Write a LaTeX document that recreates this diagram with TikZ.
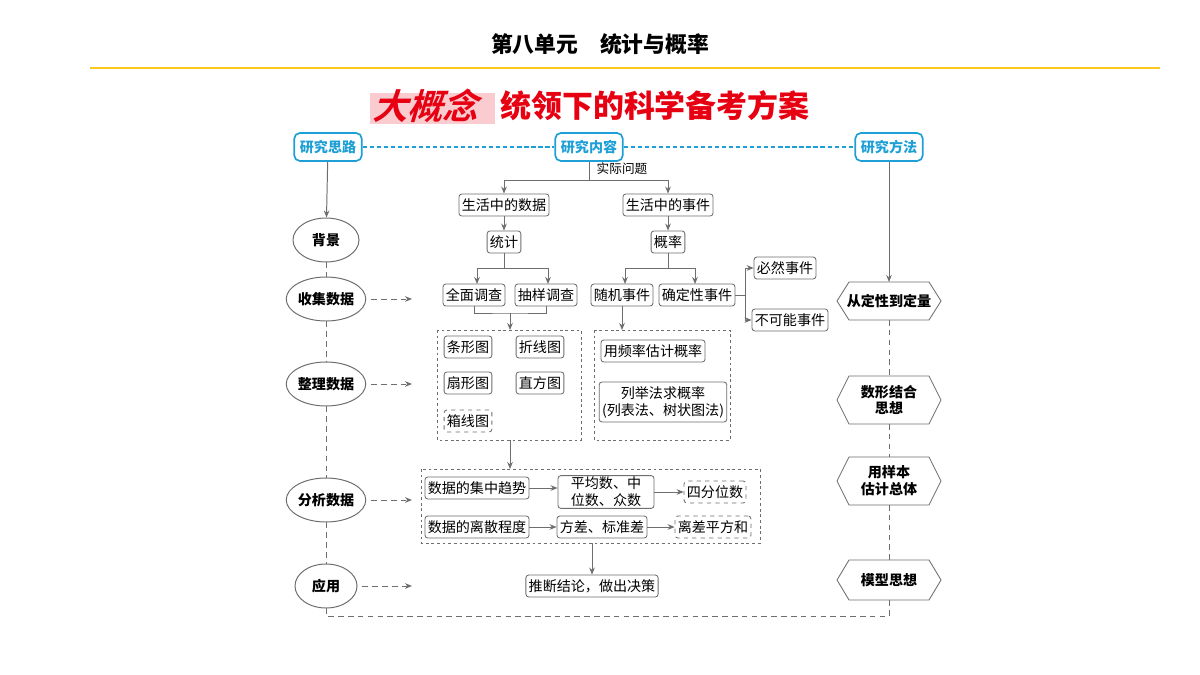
\documentclass[tikz,border=0pt]{standalone}
\usepackage{fontspec}
\setmainfont{Noto Sans CJK SC}
\newfontfamily\slfont[FakeSlant=0.3]{Noto Sans CJK SC Bold}
\usetikzlibrary{shapes.geometric,arrows.meta}
\definecolor{cy}{RGB}{30,160,215}
\definecolor{gr}{RGB}{110,110,110}
\definecolor{rd}{RGB}{230,0,18}
\begin{document}
\begin{tikzpicture}[x=0.025cm,y=-0.025cm,
 txt/.style={font=\fontsize{10}{12}\selectfont},
 box/.style={txt,draw=gr,rounded corners=2pt,fill=white,inner sep=2pt,minimum height=22*0.025cm,line width=0.6pt},
 dbox/.style={box,dashed},
 hd/.style={draw=cy,text=cy,line width=1.2pt,rounded corners=4pt,font=\fontsize{10}{12}\selectfont\bfseries,minimum height=28*0.025cm,inner xsep=4pt,fill=white},
 ell/.style={ellipse,draw=gr,line width=0.7pt,font=\fontsize{10}{12}\selectfont\bfseries,minimum width=70*0.025cm,minimum height=44*0.025cm,inner sep=0pt,fill=white},
 hx/.style={draw=none,font=\fontsize{10}{12}\selectfont\bfseries,align=center,inner sep=0pt},
 ar/.style={draw=gr,line width=0.7pt,-{Stealth[length=5pt,width=4pt]}},
 ln/.style={draw=gr,line width=0.7pt},
 dl/.style={draw=gr,line width=0.7pt,dash pattern=on 4pt off 3pt},
 da/.style={dl,-{Stealth[length=5pt,width=4pt]}},
 dgrp/.style={draw=gr,line width=0.6pt,dash pattern=on 2pt off 2pt}
]
\path[fill=white] (0,0) rectangle (1200,675);
\node[font=\fontsize{15.5}{18}\selectfont\bfseries] (title) at (600,44) {第八单元\quad 统计与概率};
\draw[draw={rgb,255:red,250;green,200;blue,30},line width=1pt] (90,68) -- (1160,68);
\fill[rd!20] (370,93) rectangle (495,124);
\node[font=\fontsize{25}{27}\slfont,text=rd,anchor=west,inner sep=0pt] (t1) at (372,106) {大概念};
\node[font=\fontsize{22}{24}\selectfont\bfseries,text=rd,anchor=west,inner sep=0pt] (t2) at (500,106) {统领下的科学备考方案};
% headers
\node[hd] (h1) at (328,147) {研究思路};
\node[hd] (h2) at (589,147) {研究内容};
\node[hd] (h3) at (889,147) {研究方法};
\draw[cy,line width=0.8pt,dash pattern=on 3pt off 2pt] (h1) -- (h2) (h2) -- (h3);
% left ellipses
\node[ell,minimum width=66*0.025cm] (e1) at (326,240) {背景};
\node[ell,minimum width=74*0.025cm] (e2) at (326,299) {收集数据};
\node[ell,minimum width=74*0.025cm] (e3) at (326,384) {整理数据};
\node[ell,minimum width=74*0.025cm] (e4) at (326,500) {分析数据};
\node[ell,minimum width=62*0.025cm] (e5) at (326,586) {应用};
\draw[ar] (h1) -- (e1);
\draw[dl] (e1) -- (e2); \draw[dl] (e2) -- (e3); \draw[dl] (e3) -- (e4); \draw[dl] (e4) -- (e5);
\coordinate (c2) at (412,299); \coordinate (c3) at (412,384); \coordinate (c4) at (412,500); \coordinate (c5) at (412,586);
\draw[da] (e2.east) ++(5,0) -- (c2);
\draw[da] (e3.east) ++(5,0) -- (c3);
\draw[da] (e4.east) ++(5,0) -- (c4);
\draw[da] (e5.east) ++(5,0) -- (c5);
% right hexagons
\foreach \y/\h in {301/19,400/24,481/24,580/20}{
 \draw[gr,line width=0.6pt,fill=white] (837,\y) -- (849,\y-\h) -- (929,\y-\h) -- (941,\y) -- (929,\y+\h) -- (849,\y+\h) -- cycle;
}
\node[hx] (r1) at (889,301) {从定性到定量};
\node[hx] (r2) at (889,400) {数形结合\\思想};
\node[hx] (r3) at (889,481) {用样本\\估计总体};
\node[hx] (r4) at (889,580) {模型思想};
\coordinate (r1t) at (889,282);
\draw[ar] (h3) -- (r1t);
\draw[dl] (889,320) -- (889,376);
\draw[dl] (889,424) -- (889,457);
\draw[dl] (889,505) -- (889,560);
\coordinate (b1) at (326,616); \coordinate (b2) at (889,616);
\draw[dl] (e5.south) -- (b1) -- (b2) -- (889,600);
% center tree
\node[txt,font=\fontsize{9}{10}\selectfont] (sj) at (622,169) {实际问题};
\node[box] (d1) at (504,205) {生活中的数据};
\node[box] (d2) at (668,205) {生活中的事件};
\node[box] (tj) at (504,242) {统计};
\node[box] (gl) at (668,242) {概率};
\coordinate (j0) at (589,180);
\draw[ln] (h2) -- (j0);
\draw[ar] (j0) -| (d1);
\draw[ar] (j0) -| (d2);
\draw[ar] (d1) -- (tj);
\draw[ar] (d2) -- (gl);
\node[box] (qm) at (474,295) {全面调查};
\node[box] (cy2) at (546,295) {抽样调查};
\node[box] (sj1) at (622,295) {随机事件};
\node[box] (qd) at (697,295) {确定性事件};
\node[box] (br) at (785,268) {必然事件};
\node[box] (bk) at (790,320) {不可能事件};
\coordinate (j1) at (504,268); \coordinate (j2) at (668,268);
\draw[ln] (tj) -- (j1);
\draw[ar] (j1) -| (477,284);
\draw[ar] (j1) -| (548,284);
\draw[ln] (gl) -- (j2);
\draw[ar] (j2) -| (625,284);
\draw[ar] (j2) -| (695,284);
\coordinate (j3) at (745,295);
\draw[ln] (qd) -- (j3);
\draw[ar] (j3) |- (br);
\draw[ar] (j3) |- (bk);
% group box 1
\draw[dgrp] (437,330) rectangle (581,440);
\coordinate (g1t) at (510,330);
\draw[ln] (qm.south) |- (510,313) -| (cy2.south);
\draw[ar] (510,313) -- (g1t);
\node[box] (tx) at (468,347) {条形图};
\node[box] (zx) at (540,347) {折线图};
\node[box] (sx) at (468,383) {扇形图};
\node[box] (zf) at (540,383) {直方图};
\node[dbox] (xx) at (468,421) {箱线图};
% group box 2
\draw[dgrp] (594,330) rectangle (730,440);
\coordinate (g2t) at (622,330);
\draw[ar] (sj1) -- (g2t);
\node[box] (pl) at (653,351) {用频率估计概率};
\node[box,align=center,inner ysep=3pt] (lj) at (663,402) {列举法求概率\\(列表法、树状图法)};
% group box 3
\draw[dgrp] (421,469) rectangle (760,543);
\coordinate (g1b) at (510,440); \coordinate (g3t) at (510,469);
\draw[ar] (g1b) -- (g3t);
\node[box] (jz) at (477,488) {数据的集中趋势};
\node[box,align=center,inner ysep=1pt,minimum width=96*0.025cm] (pj) at (606,492) {平均数、中\\位数、众数};
\node[dbox] (sf) at (715,492) {四分位数};
\node[box] (ls) at (477,527) {数据的离散程度};
\node[box] (fc) at (602,527) {方差、标准差};
\node[dbox] (lc) at (713,527) {离差平方和};
\draw[ar] (jz) -- (jz-|pj.west);
\draw[ar] (pj) -- (sf);
\draw[ar] (ls) -- (fc);
\draw[ar] (fc) -- (lc);
\node[box] (td) at (592,586) {推断结论，做出决策};
\coordinate (g3b) at (592,543);
\draw[ar] (g3b) -- (td);
\end{tikzpicture}
\end{document}
